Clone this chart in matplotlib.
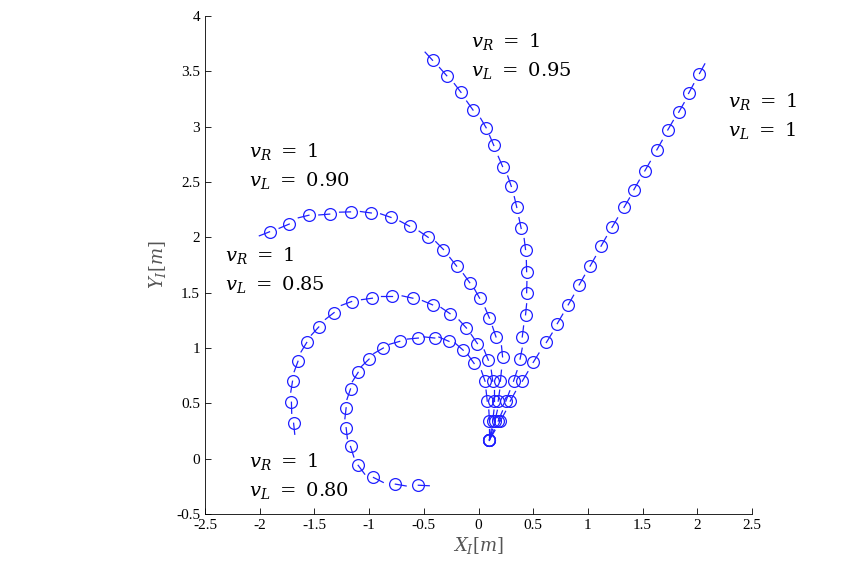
import numpy as np
import matplotlib
matplotlib.use('Agg')
import matplotlib.pyplot as plt

plt.rcParams['mathtext.fontset'] = 'custom'
plt.rcParams['mathtext.rm'] = 'DejaVu Serif'
plt.rcParams['mathtext.it'] = 'DejaVu Serif:italic'

# trajectories (x, y in metres)
x_100 = [0.1, 0.2, 0.29, 0.4, 0.5, 0.62, 0.72, 0.82, 0.92, 1.02, 1.12, 1.22, 1.33, 1.42, 1.52, 1.63, 1.73, 1.83, 1.92, 2.02]
y_100 = [0.17, 0.34, 0.52, 0.7, 0.87, 1.05, 1.22, 1.39, 1.57, 1.74, 1.92, 2.09, 2.27, 2.43, 2.6, 2.79, 2.97, 3.13, 3.3, 3.48]
x_095 = [0.1, 0.18, 0.25, 0.32, 0.38, 0.4, 0.43, 0.44, 0.44, 0.43, 0.39, 0.35, 0.3, 0.22, 0.14, 0.07, -0.05, -0.16, -0.29, -0.42]
y_095 = [0.17, 0.34, 0.52, 0.7, 0.9, 1.1, 1.3, 1.5, 1.69, 1.89, 2.08, 2.27, 2.46, 2.64, 2.83, 2.99, 3.15, 3.31, 3.46, 3.6]
x_090 = [0.1, 0.15, 0.18, 0.2, 0.22, 0.16, 0.1, 0.01, -0.08, -0.2, -0.32, -0.46, -0.63, -0.8, -0.98, -1.17, -1.36, -1.55, -1.73, -1.91]
y_090 = [0.17, 0.34, 0.52, 0.7, 0.92, 1.1, 1.27, 1.45, 1.59, 1.74, 1.89, 2.0, 2.1, 2.18, 2.22, 2.23, 2.21, 2.2, 2.12, 2.05]
x_085 = [0.1, 0.13, 0.14, 0.13, 0.09, -0.01, -0.11, -0.26, -0.42, -0.6, -0.79, -0.97, -1.16, -1.32, -1.46, -1.57, -1.65, -1.7, -1.71, -1.69]
y_085 = [0.17, 0.34, 0.52, 0.7, 0.89, 1.04, 1.18, 1.31, 1.39, 1.45, 1.47, 1.45, 1.42, 1.32, 1.19, 1.05, 0.88, 0.7, 0.51, 0.32]
x_080 = [0.1, 0.1, 0.08, 0.06, -0.04, -0.14, -0.27, -0.4, -0.55, -0.72, -0.87, -1.0, -1.1, -1.17, -1.21, -1.21, -1.17, -1.1, -0.96, -0.76, -0.55]
y_080 = [0.17, 0.34, 0.52, 0.7, 0.86, 0.98, 1.06, 1.09, 1.09, 1.06, 1.0, 0.9, 0.78, 0.63, 0.46, 0.28, 0.11, -0.06, -0.17, -0.23, -0.24]

labels = [r'$v_R\ =\ 1$' + '\n' + r'$v_L\ =\ 0.95$',
          r'$v_R\ =\ 1$' + '\n' + r'$v_L\ =\ 1$',
          r'$v_R\ =\ 1$' + '\n' + r'$v_L\ =\ 0.90$',
          r'$v_R\ =\ 1$' + '\n' + r'$v_L\ =\ 0.85$',
          r'$v_R\ =\ 1$' + '\n' + r'$v_L\ =\ 0.80$']
label_pos = [(-0.07, 3.86), (2.28, 3.32), (-2.1, 2.87), (-2.32, 1.93), (-2.1, 0.07)]

fig = plt.figure(figsize=(8.52, 5.68), dpi=100)
ax = fig.add_axes([205 / 852, 54 / 568, 547 / 852, 498 / 568])

blue = '#2020ff'
for xs, ys in [(x_100, y_100), (x_095, y_095), (x_090, y_090), (x_085, y_085), (x_080, y_080)]:
    xs = np.array(xs)
    ys = np.array(ys)
    ax.plot(xs, ys, 'o', mfc='none', mec=blue, ms=8.5, mew=0.9)
    # heading ticks along direction of travel
    dx = np.gradient(xs)
    dy = np.gradient(ys)
    n = np.hypot(dx, dy)
    ux, uy = dx / n * 0.1, dy / n * 0.1
    for x, y, a, b in zip(xs, ys, ux, uy):
        ax.plot([x, x + a], [y, y + b], color=blue, lw=0.9)

for txt, (tx, ty) in zip(labels, label_pos):
    ax.text(tx, ty, txt, fontsize=14, va='top', ha='left', linespacing=1.5)

ax.set_xlim(-2.5, 2.5)
ax.set_ylim(-0.5, 4)
ax.set_xticks(np.arange(-2.5, 2.6, 0.5))
ax.set_yticks(np.arange(-0.5, 4.1, 0.5))
ax.set_xticklabels(['-2.5', '-2', '-1.5', '-1', '-0.5', '0', '0.5', '1', '1.5', '2', '2.5'])
ax.set_yticklabels(['-0.5', '0', '0.5', '1', '1.5', '2', '2.5', '3', '3.5', '4'])
for lab in ax.get_xticklabels() + ax.get_yticklabels():
    lab.set_fontfamily('Liberation Serif')
    lab.set_fontsize(11)
ax.tick_params(direction='in', length=4, width=0.6)
ax.spines['top'].set_visible(False)
ax.spines['right'].set_visible(False)
ax.spines['left'].set_linewidth(0.6)
ax.spines['bottom'].set_linewidth(0.6)
ax.set_xlabel(r'$X_I[m]$', fontsize=13, color='#555555', labelpad=2)
ax.set_ylabel(r'$Y_I[m]$', fontsize=13, color='#555555', labelpad=6)

fig.savefig('out.png', dpi=100)
